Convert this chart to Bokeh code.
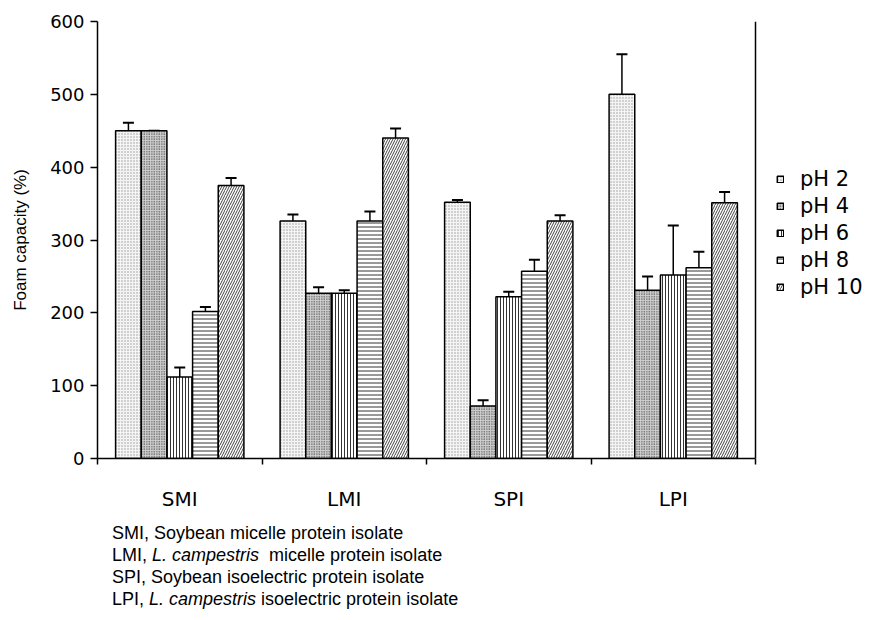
import numpy as np
from bokeh.plotting import figure
from bokeh.layouts import column
from bokeh.models import (ColumnDataSource, Whisker, TeeHead, Legend, LegendItem,
                          FixedTicker, Range1d, Div, Span)
from bokeh.embed import file_html
from bokeh.resources import INLINE

# ---- data ----
categories = ["SMI", "LMI", "SPI", "LPI"]
series_labels = ["pH 2", "pH 4", "pH 6", "pH 8", "pH 10"]
ph2 = [450, 326, 352, 500]
ph4 = [450, 227, 72, 231]
ph6 = [112, 227, 222, 252]
ph8 = [202, 326, 257, 262]
ph10 = [375, 440, 326, 351]
err2 = [11, 9, 3, 55]
err4 = [0, 8, 8, 19]
err6 = [13, 4, 7, 68]
err8 = [6, 13, 16, 22]
err10 = [10, 13, 8, 15]
y_ticks = [0, 100, 200, 300, 400, 500, 600]

values = [ph2, ph4, ph6, ph8, ph10]
errors = [err2, err4, err6, err8, err10]

styles = [
    dict(fill_color="#f4f4f4", hatch_pattern="dot", hatch_color="#9a9a9a", hatch_scale=3.0, hatch_weight=1.0),
    dict(fill_color="#d0d0d0", hatch_pattern="dot", hatch_color="#202020", hatch_scale=2.5, hatch_weight=1.0),
    dict(fill_color="white", hatch_pattern="vertical_line", hatch_color="#333333", hatch_scale=3.0, hatch_weight=1.0),
    dict(fill_color="white", hatch_pattern="horizontal_line", hatch_color="#333333", hatch_scale=4.0, hatch_weight=1.0),
    dict(fill_color="white", hatch_pattern="right_diagonal_line", hatch_color="#444444", hatch_scale=5.0, hatch_weight=1.0),
]

n = len(categories)
# the frame also holds the legend area to the right of the category axis
x_end = n * 770 / 658
p = figure(frame_width=770, frame_height=437, x_range=Range1d(0, x_end), y_range=Range1d(0, 600),
           output_backend="svg", toolbar_location=None,
           min_border_left=97, min_border_right=0, min_border_top=21, min_border_bottom=64)
p.xgrid.visible = False
p.ygrid.visible = False
p.outline_line_color = None
p.background_fill_color = "white"

centers = np.arange(n) + 0.5
bar_w = 0.156
renderers = []
for i, (vals, errs, st) in enumerate(zip(values, errors, styles)):
    off = (i - 2) * bar_w
    top = np.array(vals, dtype=float)
    src = ColumnDataSource(dict(x=centers + off, top=top, upper=top + np.array(errs)))
    r = p.vbar(x="x", top="top", width=bar_w, source=src, line_color="black", line_width=1.5, **st)
    renderers.append(r)
    p.add_layout(Whisker(source=src, base="x", upper="upper", lower="top", line_width=1.5,
                         line_color="black",
                         upper_head=TeeHead(size=11, line_width=2, line_color="black"),
                         lower_head=None))

# right border of the plot area
p.add_layout(Span(location=n, dimension="height", line_color="black", line_width=1.5))

# x axis
xa = p.xaxis[0]
xa.bounds = (0, n)
xa.ticker = FixedTicker(ticks=list(centers), minor_ticks=list(range(n + 1)))
xa.major_label_overrides = {float(c): cat for c, cat in zip(centers, categories)}
xa.major_tick_line_color = None
xa.major_tick_out = 0
xa.major_tick_in = 0
xa.minor_tick_in = 0
xa.minor_tick_out = 6
xa.minor_tick_line_color = "black"
xa.minor_tick_line_width = 1.5
xa.axis_line_width = 1.5
xa.major_label_standoff = 22
xa.major_label_text_font = "DejaVu Sans"
xa.major_label_text_font_size = "20px"
xa.major_label_text_color = "black"

# y axis
ya = p.yaxis[0]
ya.ticker = FixedTicker(ticks=y_ticks)
ya.major_tick_in = 0
ya.major_tick_out = 7
ya.major_tick_line_width = 1.5
ya.minor_tick_line_color = None
ya.axis_line_width = 1.5
ya.major_label_standoff = 6
ya.major_label_text_font = "DejaVu Sans"
ya.major_label_text_font_size = "18px"
ya.major_label_text_color = "black"
ya.axis_label = "Foam capacity (%)"
ya.axis_label_text_font = "Liberation Sans"
ya.axis_label_text_font_size = "17px"
ya.axis_label_text_font_style = "normal"
ya.axis_label_text_color = "black"
ya.axis_label_standoff = 17

legend = Legend(items=[LegendItem(label=lab, renderers=[r]) for lab, r in zip(series_labels, renderers)],
                location=(679, 159), margin=0, padding=0, border_line_color=None,
                background_fill_alpha=0, glyph_width=8, glyph_height=8, label_standoff=16,
                spacing=3, label_height=20, label_text_font="DejaVu Sans",
                label_text_font_size="21px", label_text_color="black")
p.add_layout(legend, "center")

caption = Div(
    text=("SMI, Soybean micelle protein isolate<br>"
          "LMI, <i>L. campestris</i>&nbsp; micelle protein isolate<br>"
          "SPI, Soybean isoelectric protein isolate<br>"
          "LPI, <i>L. campestris</i> isoelectric protein isolate"),
    width=760, height=88, margin=(0, 0, 0, 0),
    styles={"font-family": "'Liberation Sans', Arial, sans-serif", "font-size": "18px",
            "line-height": "22px", "padding-left": "112px", "color": "black"})

layout = column(p, caption, spacing=0)
open("out.html", "w").write(file_html(layout, INLINE))
